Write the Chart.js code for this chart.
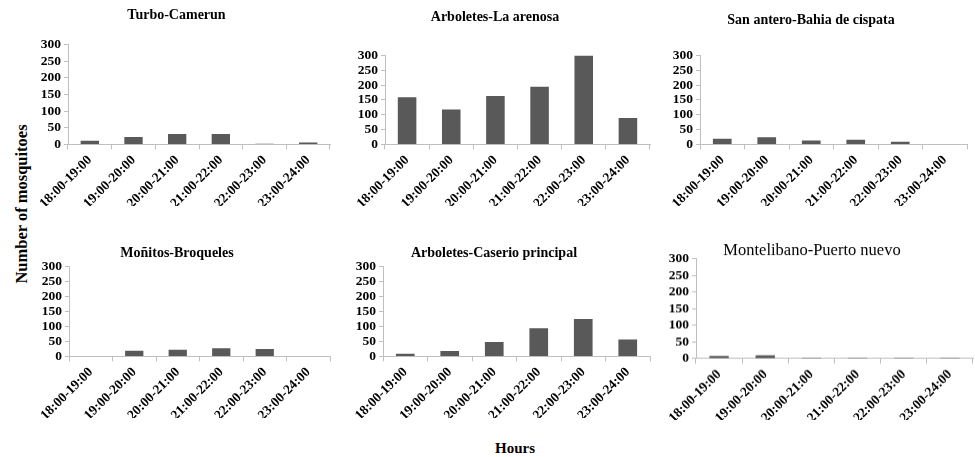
<!DOCTYPE html>
<html>
<head>
<meta charset="utf-8">
<script src="https://cdn.jsdelivr.net/npm/chart.js@4.4.1/dist/chart.umd.min.js"></script>
<style>
  html, body { margin: 0; padding: 0; background: #fff; }
  #wrap { position: relative; width: 975px; height: 457px; overflow: hidden; background: #fff; }
  .panel { position: absolute; }
  .axis-label { position: absolute; font-family: "Liberation Serif", serif; font-weight: bold; color: #000; white-space: nowrap; }
</style>
</head>
<body>
<div id="wrap">
  <div class="axis-label" id="ylabel">Number of mosquitoes</div>
  <div class="axis-label" id="xlabel">Hours</div>
</div>
<script>
// data
const hours = ['18:00-19:00', '19:00-20:00', '20:00-21:00', '21:00-22:00', '22:00-23:00', '23:00-24:00'];
const yMax = 300;
const yStep = 50;

const siteNames = ['Turbo-Camerun', 'Arboletes-La arenosa', 'San antero-Bahia de cispata',
  'Moñitos-Broqueles', 'Arboletes-Caserio principal', 'Montelibano-Puerto nuevo'];

const turboCamerun = [11, 22, 31, 31, 2, 6];
const arboletesLaArenosa = [159, 118, 163, 194, 300, 89];
const sanAntero = [19, 24, 13, 16, 9, 0];
const monitosBroqueles = [0, 19, 22, 27, 25, 0];
const arboletesCaserio = [9, 18, 48, 94, 125, 56];
const montelibano = [8, 10, 3, 3, 3, 3];

const seriesList = [turboCamerun, arboletesLaArenosa, sanAntero, monitosBroqueles, arboletesCaserio, montelibano];

// plot boxes in page pixels: left, right, top, bottom, title centre x, title centre y
const boxes = [
  { l: 68,  r: 330, t: 44,  b: 144, tx: 188, ty: 15 },
  { l: 385, r: 650, t: 55,  b: 144, tx: 515, ty: 17 },
  { l: 700, r: 967, t: 55,  b: 144, tx: 818, ty: 20 },
  { l: 69,  r: 330, t: 266, b: 356, tx: 188, ty: 253 },
  { l: 383, r: 650, t: 266, b: 356, tx: 515, ty: 253 },
  { l: 696, r: 973, t: 259, b: 358, tx: 830, ty: 251 }
];

const yAxisW = 45;
const xAxisH = 62;
const axisColor = '#bfbfbf';
const barColor = '#595959';
const tickFont = { family: '"Liberation Serif", serif', size: 13.5, weight: 'bold' };

const wrap = document.getElementById('wrap');

boxes.forEach((box, i) => {
  const regularTitle = i === 5;
  const titleSize = regularTitle ? 16.5 : 14;
  const titleLine = titleSize * 1.2;
  const left = box.l - yAxisW;
  const width = 2 * (box.tx - left);
  const top = box.ty - titleLine / 2;
  const height = box.b - top + xAxisH;
  const padRight = left + width - box.r;

  const div = document.createElement('div');
  div.className = 'panel';
  div.style.left = left + 'px';
  div.style.top = top + 'px';
  div.style.width = width + 'px';
  div.style.height = height + 'px';
  const canvas = document.createElement('canvas');
  div.appendChild(canvas);
  wrap.appendChild(div);

  new Chart(canvas.getContext('2d'), {
    type: 'bar',
    data: {
      labels: hours,
      datasets: [{
        label: siteNames[i],
        data: seriesList[i],
        backgroundColor: barColor,
        borderWidth: 0,
        barPercentage: 0.42,
        categoryPercentage: 1
      }]
    },
    options: {
      responsive: true,
      maintainAspectRatio: false,
      animation: false,
      layout: { padding: { left: 0, right: padRight, top: 0, bottom: 0 } },
      scales: {
        x: {
          offset: true,
          grid: { offset: true, drawOnChartArea: false, drawTicks: true, tickLength: 5, color: axisColor },
          border: { color: axisColor },
          ticks: { color: '#000', font: tickFont, minRotation: 45, maxRotation: 45, autoSkip: false },
          afterFit: (scale) => { scale.height = xAxisH; }
        },
        y: {
          min: 0,
          max: yMax,
          grid: { drawOnChartArea: false, drawTicks: true, tickLength: 4, color: axisColor },
          border: { color: axisColor },
          ticks: { color: '#000', font: tickFont, padding: 3, stepSize: yStep, autoSkip: false },
          afterFit: (scale) => { scale.width = yAxisW; }
        }
      },
      plugins: {
        legend: { display: false },
        tooltip: { enabled: false },
        title: {
          display: true,
          text: siteNames[i],
          color: '#000',
          font: { family: '"Liberation Serif", serif', size: titleSize, weight: regularTitle ? 'normal' : 'bold' },
          padding: { top: 0, bottom: box.t - top - titleLine }
        }
      }
    }
  });
});

// shared axis titles
const ylabel = document.getElementById('ylabel');
ylabel.style.fontSize = '16.5px';
ylabel.style.left = '22px';
ylabel.style.top = '204px';
ylabel.style.transform = 'translate(-50%, -50%) rotate(-90deg)';
const xlabel = document.getElementById('xlabel');
xlabel.style.fontSize = '15px';
xlabel.style.left = '515px';
xlabel.style.top = '448px';
xlabel.style.transform = 'translate(-50%, -50%)';
</script>
</body>
</html>
